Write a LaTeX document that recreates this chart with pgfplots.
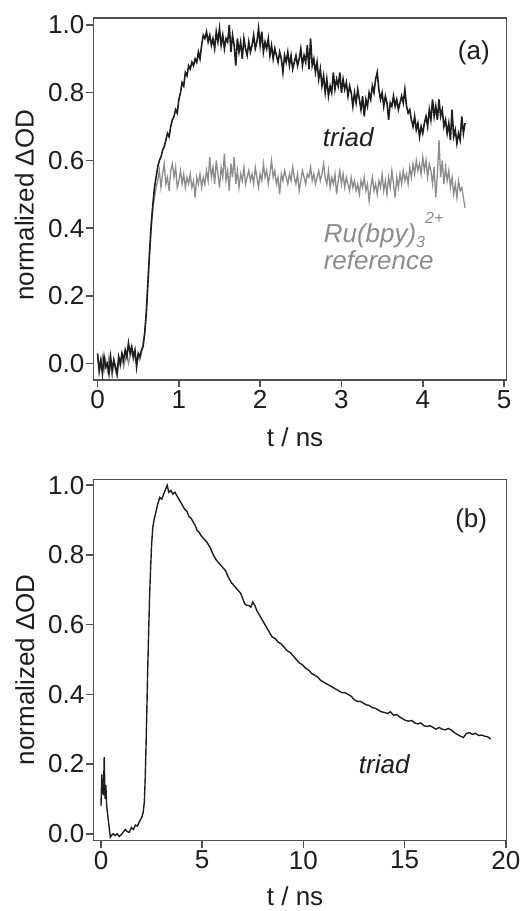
\documentclass[border=0pt]{standalone}
\usepackage{fontspec}
\setmainfont{Liberation Sans}
\usepackage{pgfplots}
\pgfplotsset{compat=1.18}
\definecolor{trace}{HTML}{1E1E1E}
\definecolor{refgray}{HTML}{8C8C8C}
\definecolor{frame}{HTML}{505050}
\newcommand{\lblfont}{\fontsize{26}{30}\selectfont}
\newcommand{\supfont}{\fontsize{16}{18}\selectfont}
\pgfplotsset{
  panel/.style={
    scale only axis, width=413pt,
    axis line style={frame, line width=1.6pt},
    tick style={frame, line width=1.6pt},
    tick align=outside, tick pos=left,
    major tick length=7pt,
    ticklabel style={font=\lblfont, text=trace},
    label style={font=\lblfont, text=trace},
    /pgf/number format/assume math mode=true,
    yticklabel style={inner xsep=2pt, /pgf/number format/.cd, fixed, fixed zerofill, precision=1},
    ytick={0,0.2,...,1.0},
    ylabel={normalized ΔOD},
  }
}
\begin{document}
\begin{tikzpicture}
\useasboundingbox (0,0) rectangle (531pt,911pt);
% panel (a)
\begin{axis}[panel,
  at={(93.5pt,531pt)}, anchor=south west, height=361.7pt,
  xmin=-0.05, xmax=5.03, ymin=-0.0487, ymax=1.0198,
  xtick={0,1,2,3,4,5},
  xlabel={t / ns},
  xlabel style={at={(axis description cs:0.488,-0.185)}, anchor=base},
  ylabel style={at={(axis description cs:-0.145,0.483)}, anchor=base},
]
\addplot[refgray, line width=1.3pt] table {
0.00 0.02
0.02 -0.03
0.04 0.00
0.06 0.02
0.08 -0.02
0.10 0.01
0.12 -0.02
0.14 0.02
0.16 -0.01
0.18 -0.04
0.20 0.01
0.22 -0.02
0.24 -0.04
0.26 0.01
0.28 -0.01
0.30 0.02
0.32 -0.01
0.34 0.01
0.36 0.03
0.38 0.00
0.40 0.02
0.42 0.04
0.44 0.01
0.46 0.03
0.48 0.00
0.50 0.02
0.52 0.01
0.54 0.03
0.56 0.06
0.58 0.09
0.60 0.16
0.62 0.25
0.64 0.33
0.66 0.40
0.68 0.46
0.70 0.49
0.72 0.52
0.74 0.54
0.76 0.57
0.78 0.52
0.80 0.56
0.82 0.59
0.84 0.53
0.86 0.55
0.88 0.51
0.90 0.57
0.92 0.59
0.94 0.55
0.96 0.58
0.98 0.52
1.00 0.54
1.02 0.57
1.04 0.53
1.06 0.56
1.08 0.52
1.10 0.55
1.12 0.53
1.14 0.56
1.16 0.52
1.18 0.54
1.20 0.49
1.22 0.55
1.24 0.53
1.26 0.56
1.28 0.52
1.30 0.55
1.32 0.53
1.34 0.57
1.36 0.54
1.38 0.61
1.40 0.55
1.42 0.58
1.44 0.53
1.46 0.60
1.48 0.56
1.50 0.52
1.52 0.58
1.54 0.55
1.56 0.62
1.58 0.54
1.60 0.57
1.62 0.51
1.64 0.59
1.66 0.55
1.68 0.61
1.70 0.53
1.72 0.57
1.74 0.52
1.76 0.56
1.78 0.54
1.80 0.58
1.82 0.53
1.84 0.55
1.86 0.57
1.88 0.54
1.90 0.56
1.92 0.53
1.94 0.58
1.96 0.55
1.98 0.52
2.00 0.56
2.02 0.54
2.04 0.59
2.06 0.55
2.08 0.57
2.10 0.53
2.12 0.56
2.14 0.60
2.16 0.55
2.18 0.57
2.20 0.53
2.22 0.55
2.24 0.50
2.26 0.56
2.28 0.54
2.30 0.57
2.32 0.55
2.34 0.53
2.36 0.56
2.38 0.54
2.40 0.58
2.42 0.55
2.44 0.53
2.46 0.56
2.48 0.51
2.50 0.54
2.52 0.57
2.54 0.55
2.56 0.53
2.58 0.56
2.60 0.55
2.62 0.58
2.64 0.54
2.66 0.56
2.68 0.53
2.70 0.55
2.72 0.57
2.74 0.54
2.76 0.56
2.78 0.59
2.80 0.55
2.82 0.53
2.84 0.57
2.86 0.52
2.88 0.55
2.90 0.53
2.92 0.56
2.94 0.50
2.96 0.54
2.98 0.57
3.00 0.53
3.02 0.56
3.04 0.52
3.06 0.55
3.08 0.53
3.10 0.51
3.12 0.55
3.14 0.52
3.16 0.54
3.18 0.51
3.20 0.53
3.22 0.50
3.24 0.54
3.26 0.52
3.28 0.55
3.30 0.51
3.32 0.53
3.34 0.48
3.36 0.52
3.38 0.55
3.40 0.51
3.42 0.53
3.44 0.50
3.46 0.54
3.48 0.52
3.50 0.56
3.52 0.51
3.54 0.54
3.56 0.50
3.58 0.55
3.60 0.52
3.62 0.57
3.64 0.53
3.66 0.49
3.68 0.55
3.70 0.52
3.72 0.56
3.74 0.53
3.76 0.57
3.78 0.54
3.80 0.56
3.82 0.53
3.84 0.58
3.86 0.55
3.88 0.59
3.90 0.56
3.92 0.60
3.94 0.57
3.96 0.59
3.98 0.56
4.00 0.61
4.02 0.57
4.04 0.60
4.06 0.55
4.08 0.59
4.10 0.57
4.12 0.53
4.14 0.58
4.16 0.49
4.18 0.56
4.20 0.66
4.22 0.55
4.24 0.60
4.26 0.53
4.28 0.58
4.30 0.54
4.32 0.57
4.34 0.52
4.36 0.55
4.38 0.50
4.40 0.53
4.42 0.49
4.44 0.54
4.46 0.51
4.48 0.52
4.50 0.49
4.52 0.46
};
\addplot[trace, line width=1.6pt] table {
0.00 0.03
0.02 -0.02
0.04 0.01
0.06 -0.03
0.08 0.02
0.10 -0.01
0.12 0.00
0.14 -0.03
0.16 0.02
0.18 -0.02
0.20 0.01
0.22 -0.01
0.24 -0.03
0.26 0.02
0.28 0.00
0.30 0.03
0.32 0.01
0.34 0.04
0.36 0.02
0.38 0.06
0.40 0.03
0.42 0.05
0.44 0.02
0.46 0.04
0.48 -0.01
0.50 0.03
0.52 0.02
0.54 0.04
0.56 0.05
0.58 0.09
0.60 0.15
0.62 0.24
0.64 0.33
0.66 0.41
0.68 0.47
0.70 0.52
0.72 0.55
0.74 0.58
0.76 0.60
0.78 0.61
0.80 0.63
0.82 0.64
0.84 0.66
0.86 0.68
0.88 0.67
0.90 0.70
0.92 0.72
0.94 0.73
0.96 0.75
0.98 0.74
1.00 0.78
1.02 0.80
1.04 0.83
1.06 0.82
1.08 0.86
1.10 0.85
1.12 0.88
1.14 0.87
1.16 0.89
1.18 0.88
1.20 0.90
1.22 0.89
1.24 0.92
1.26 0.90
1.28 0.94
1.30 0.97
1.32 0.96
1.34 0.98
1.36 0.95
1.38 0.97
1.40 0.94
1.42 0.96
1.44 0.93
1.46 0.98
1.48 0.95
1.50 0.99
1.52 0.94
1.54 0.97
1.56 0.93
1.58 0.96
1.60 0.95
1.62 1.00
1.64 0.92
1.66 0.97
1.68 0.94
1.70 0.88
1.72 0.96
1.74 0.92
1.76 0.95
1.78 0.90
1.80 0.96
1.82 0.93
1.84 0.91
1.86 0.95
1.88 0.92
1.90 0.94
1.92 0.97
1.94 0.93
1.96 0.95
1.98 0.99
2.00 0.94
2.02 0.98
2.04 0.92
2.06 0.95
2.08 0.93
2.10 0.96
2.12 0.91
2.14 0.94
2.16 0.90
2.18 0.93
2.20 0.91
2.22 0.89
2.24 0.92
2.26 0.90
2.28 0.86
2.30 0.91
2.32 0.89
2.34 0.92
2.36 0.88
2.38 0.91
2.40 0.87
2.42 0.89
2.44 0.91
2.46 0.88
2.48 0.90
2.50 0.93
2.52 0.88
2.54 0.91
2.56 0.89
2.58 0.94
2.60 0.87
2.62 0.96
2.64 0.88
2.66 0.90
2.68 0.86
2.70 0.89
2.72 0.84
2.74 0.87
2.76 0.82
2.78 0.85
2.80 0.80
2.82 0.84
2.84 0.79
2.86 0.82
2.88 0.80
2.90 0.86
2.92 0.81
2.94 0.84
2.96 0.82
2.98 0.86
3.00 0.80
3.02 0.84
3.04 0.81
3.06 0.83
3.08 0.79
3.10 0.82
3.12 0.80
3.14 0.76
3.16 0.80
3.18 0.77
3.20 0.81
3.22 0.78
3.24 0.75
3.26 0.79
3.28 0.73
3.30 0.78
3.32 0.76
3.34 0.80
3.36 0.78
3.38 0.82
3.40 0.80
3.42 0.84
3.44 0.86
3.46 0.81
3.48 0.78
3.50 0.80
3.52 0.76
3.54 0.79
3.56 0.77
3.58 0.72
3.60 0.77
3.62 0.76
3.64 0.79
3.66 0.76
3.68 0.78
3.70 0.75
3.72 0.77
3.74 0.79
3.76 0.77
3.78 0.81
3.80 0.76
3.82 0.74
3.84 0.75
3.86 0.72
3.88 0.70
3.90 0.73
3.92 0.69
3.94 0.71
3.96 0.67
3.98 0.70
4.00 0.68
4.02 0.71
4.04 0.73
4.06 0.70
4.08 0.75
4.10 0.72
4.12 0.78
4.14 0.73
4.16 0.76
4.18 0.72
4.20 0.78
4.22 0.73
4.24 0.75
4.26 0.70
4.28 0.72
4.30 0.68
4.32 0.71
4.34 0.66
4.36 0.75
4.38 0.67
4.40 0.69
4.42 0.65
4.44 0.68
4.46 0.66
4.48 0.73
4.50 0.68
4.52 0.71
};
\node[anchor=base west, font=\lblfont, text=trace, inner sep=0pt] at (axis cs:4.43,0.899) {(a)};
\node[anchor=base west, font=\lblfont\itshape, text=trace, inner sep=0pt] at (axis cs:2.77,0.642) {triad};
\node[anchor=base west, font=\lblfont\itshape, text=refgray, inner sep=0pt] at (axis cs:2.78,0.358)
  {Ru(bpy)\raisebox{-5pt}{\supfont 3}\raisebox{19pt}{\supfont 2+}};
\node[anchor=base west, font=\lblfont\itshape, text=refgray, inner sep=0pt] at (axis cs:2.78,0.277) {reference};
\end{axis}
% panel (b)
\begin{axis}[panel,
  at={(93.5pt,70.5pt)}, anchor=south west, height=361pt,
  xmin=-0.37, xmax=20.03, ymin=-0.0195, ymax=1.0166,
  xtick={0,5,10,15,20},
  xlabel={t / ns},
  xlabel style={at={(axis description cs:0.488,-0.179)}, anchor=base},
  ylabel style={at={(axis description cs:-0.144,0.473)}, anchor=base},
]
\addplot[trace, line width=1.4pt] table {
0.00 0.08
0.04 0.17
0.08 0.13
0.12 0.11
0.16 0.22
0.20 0.10
0.24 0.14
0.28 0.08
0.34 0.05
0.40 0.02
0.46 -0.01
0.52 -0.005
0.60 0.00
0.70 -0.005
0.80 0.00
0.90 -0.008
1.00 -0.003
1.10 0.005
1.20 0.012
1.30 0.006
1.40 0.004
1.50 0.018
1.60 0.012
1.70 0.025
1.80 0.022
1.90 0.035
2.00 0.045
2.08 0.06
2.14 0.09
2.18 0.15
2.22 0.24
2.26 0.34
2.30 0.45
2.35 0.57
2.40 0.68
2.45 0.76
2.50 0.83
2.56 0.88
2.62 0.90
2.70 0.92
2.80 0.945
2.90 0.965
3.00 0.96
3.10 0.975
3.20 0.99
3.27 1.00
3.35 0.98
3.45 0.985
3.55 0.975
3.65 0.98
3.75 0.97
3.85 0.96
3.95 0.95
4.05 0.94
4.15 0.93
4.25 0.925
4.35 0.91
4.45 0.905
4.55 0.895
4.65 0.885
4.75 0.87
4.85 0.865
4.95 0.855
5.10 0.845
5.25 0.835
5.40 0.82
5.55 0.80
5.70 0.785
5.85 0.775
6.00 0.765
6.15 0.755
6.30 0.735
6.45 0.72
6.60 0.71
6.75 0.70
6.90 0.69
7.00 0.675
7.10 0.66
7.20 0.655
7.30 0.655
7.40 0.65
7.50 0.665
7.60 0.655
7.70 0.64
7.85 0.625
8.00 0.61
8.15 0.595
8.30 0.58
8.45 0.565
8.60 0.56
8.75 0.55
8.90 0.545
9.05 0.535
9.20 0.525
9.35 0.52
9.50 0.51
9.65 0.50
9.80 0.49
9.95 0.485
10.10 0.475
10.25 0.47
10.40 0.46
10.55 0.455
10.70 0.45
10.85 0.44
11.00 0.435
11.15 0.43
11.30 0.425
11.45 0.42
11.60 0.415
11.75 0.41
11.90 0.405
12.05 0.405
12.20 0.40
12.35 0.395
12.50 0.385
12.65 0.38
12.80 0.38
12.95 0.375
13.10 0.37
13.25 0.368
13.40 0.362
13.55 0.36
13.70 0.355
13.85 0.35
14.00 0.348
14.15 0.345
14.30 0.35
14.45 0.34
14.60 0.342
14.75 0.335
14.90 0.33
15.05 0.325
15.20 0.323
15.35 0.325
15.50 0.318
15.65 0.315
15.80 0.318
15.95 0.31
16.10 0.308
16.25 0.31
16.40 0.305
16.55 0.30
16.70 0.305
16.85 0.30
17.00 0.298
17.15 0.302
17.30 0.298
17.45 0.29
17.60 0.285
17.75 0.28
17.90 0.276
18.05 0.288
18.20 0.29
18.35 0.285
18.50 0.288
18.65 0.282
18.80 0.283
18.95 0.28
19.10 0.278
19.25 0.272
};
\node[anchor=base west, font=\lblfont, text=trace, inner sep=0pt] at (axis cs:17.49,0.878) {(b)};
\node[anchor=base west, font=\lblfont\itshape, text=trace, inner sep=0pt] at (axis cs:12.73,0.174) {triad};
\end{axis}
\end{tikzpicture}
\end{document}
